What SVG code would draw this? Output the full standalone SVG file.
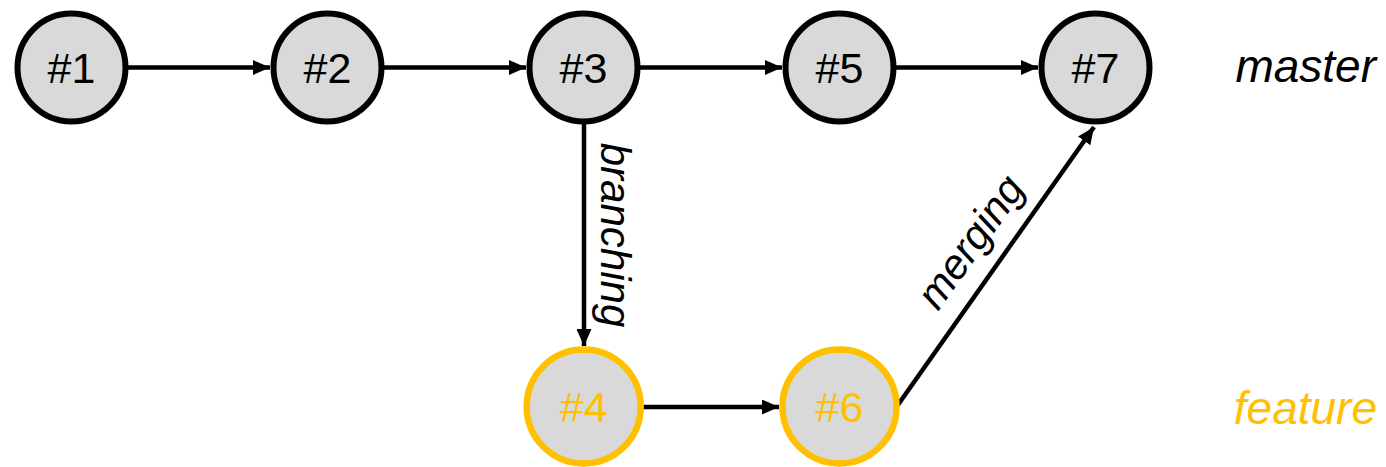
<svg xmlns="http://www.w3.org/2000/svg" width="1386" height="467" viewBox="0 0 1386 467">
<style>
  .node circle { fill: #d9d9d9; stroke: #000; stroke-width: 6; }
  .node.feat circle { stroke: #ffc000; stroke-width: 6.5; }
  .node text { font-family: "Liberation Sans", Arial, sans-serif; font-size: 43px; text-anchor: middle; fill: #000; }
  .node.feat text { fill: #ffc000; }
  .edge { stroke: #000; stroke-width: 4.5; fill: none; marker-end: url(#arrow); }
  .lbl { font-family: "Liberation Sans", Arial, sans-serif; font-style: italic; font-size: 42px; fill: #000; }
  .branch { font-family: "Liberation Sans", Arial, sans-serif; font-style: italic; font-size: 46px; text-anchor: end; }
</style>
<defs>
  <marker id="arrow" markerUnits="userSpaceOnUse" markerWidth="17" markerHeight="15" refX="17" refY="7.5" orient="auto">
    <path d="M0,0 L17,7.5 L0,15 Z" fill="#000"/>
  </marker>
</defs>
<rect width="1386" height="467" fill="#fff"/>
<g id="connectors">
  <line class="edge" x1="128" y1="67.5" x2="270" y2="67.5"/>
  <line class="edge" x1="384" y1="67.5" x2="526" y2="67.5"/>
  <line class="edge" x1="640" y1="67.5" x2="782" y2="67.5"/>
  <line class="edge" x1="896" y1="67.5" x2="1038" y2="67.5"/>
  <line class="edge" x1="584" y1="124" x2="584" y2="346"/>
  <line class="edge" x1="643" y1="407" x2="779" y2="407"/>
  <line class="edge" x1="895" y1="409" x2="1094" y2="127"/>
  <text class="lbl" text-anchor="middle" transform="translate(601,235) rotate(90)">branching</text>
  <text class="lbl" text-anchor="middle" transform="translate(982,250) rotate(-54.6)">merging</text>
</g>
<g id="n1" class="node"><circle cx="71.5" cy="67.5" r="54"/><text x="71.5" y="82.8">#1</text></g>
<g id="n2" class="node"><circle cx="327.5" cy="67.5" r="54"/><text x="327.5" y="82.8">#2</text></g>
<g id="n3" class="node"><circle cx="583.5" cy="67.5" r="54"/><text x="583.5" y="82.8">#3</text></g>
<g id="n5" class="node"><circle cx="839.5" cy="67.5" r="54"/><text x="839.5" y="82.8">#5</text></g>
<g id="n7" class="node"><circle cx="1095.5" cy="67.5" r="54"/><text x="1095.5" y="82.8">#7</text></g>
<g id="n4" class="node feat"><circle cx="583.7" cy="406.5" r="57"/><text x="583.7" y="421.8">#4</text></g>
<g id="n6" class="node feat"><circle cx="839.5" cy="406.5" r="57"/><text x="839.5" y="421.8">#6</text></g>
<g id="branch-master"><text class="branch" x="1376" y="82" fill="#000">master</text></g>
<g id="branch-feature"><text class="branch" x="1377" y="424" fill="#ffc000">feature</text></g>
</svg>
